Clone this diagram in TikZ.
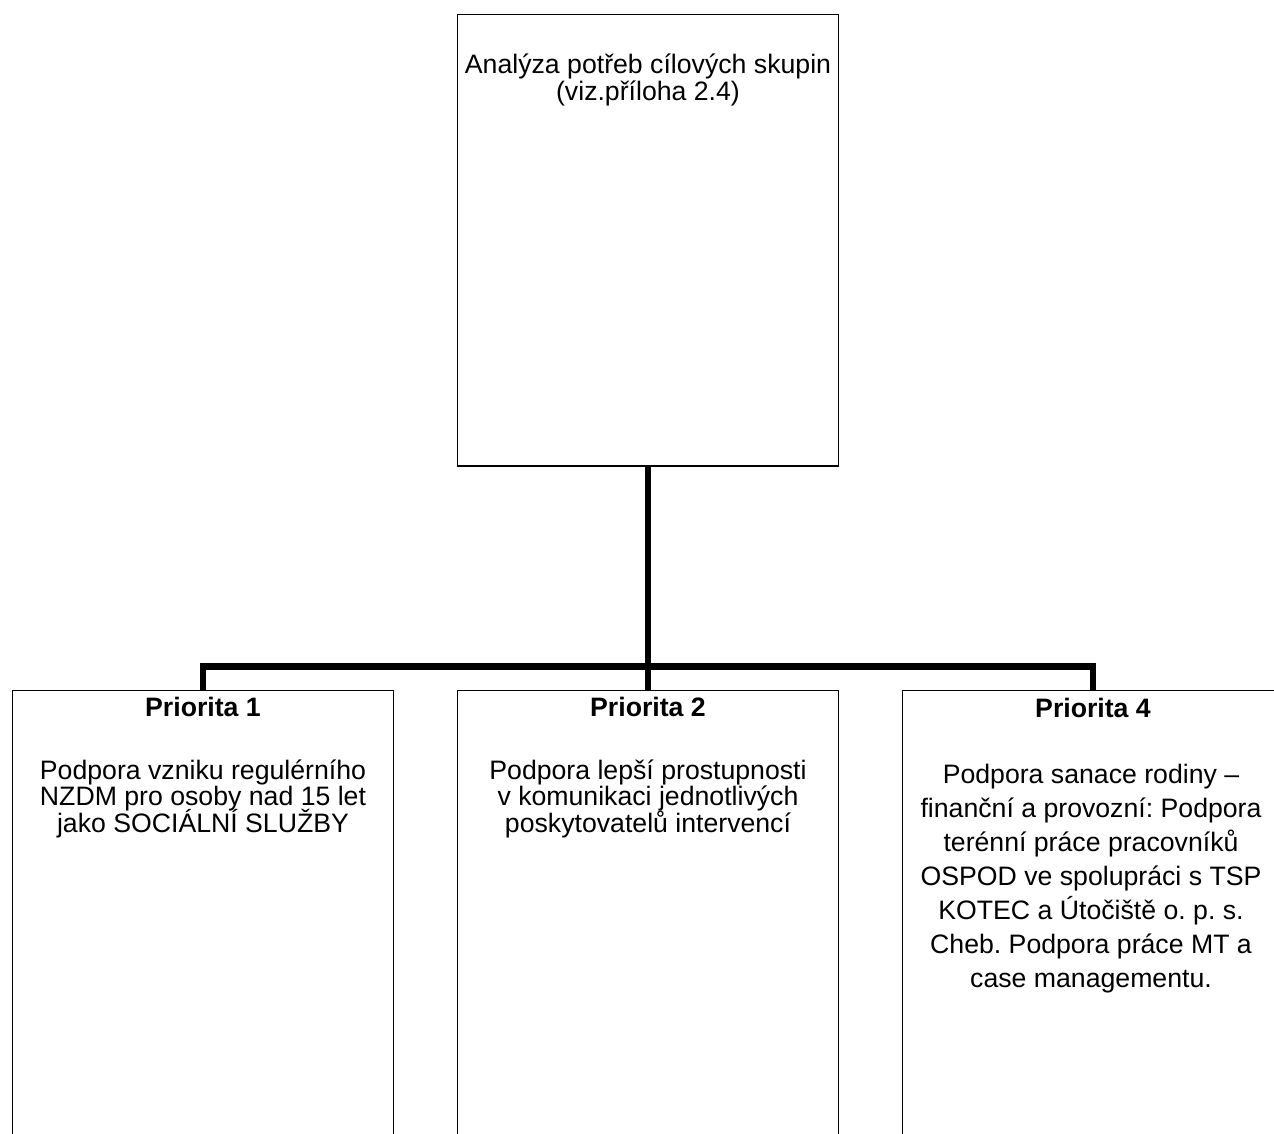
\documentclass[tikz,border=0pt]{standalone}
\usepackage{fontspec}
\setmainfont{Liberation Sans}
\frenchspacing
\begin{document}
\begin{tikzpicture}[x=0.75pt,y=-0.75pt,
  box/.style={draw=black,line width=1.3pt,rectangle,inner sep=0pt,minimum width=285.75pt},
  boxtop/.style={box,minimum height=338.6pt},
  boxlow/.style={box,minimum height=382.5pt},
  txt/.style={inner sep=0pt,align=center,anchor=north,font=\fontsize{20}{20}\selectfont,
    execute at begin node={\lineskiplimit=-30pt\frenchspacing}},
  txtwide/.style={inner sep=0pt,align=center,anchor=north,font=\fontsize{20}{25.5}\selectfont,
    execute at begin node={\lineskiplimit=-30pt\frenchspacing}},
  head/.style={inner sep=0pt,anchor=base,font=\fontsize{20}{20}\selectfont\bfseries},
  conn/.style={draw=black,line width=4.6pt,line join=miter}]
\clip (0,0) rectangle (1274,1133);
\fill[white] (0,0) rectangle (1274,1133);

% boxes
\node[boxtop,anchor=north] (top) at (648,13.5) {};
\node[boxlow,anchor=north] (p1) at (203,689.5) {};
\node[boxlow,anchor=north] (p2) at (648,689.5) {};
\node[boxlow,anchor=north] (p4) at (1093,689.5) {};

% connectors
\coordinate (bus) at (648,666.5);
\draw[conn] (top.south) -- (bus);
\draw[conn] (p1.north) -- (p1.north |- bus) -- (p4.north |- bus) -- (p4.north);
\draw[conn] (bus) -- (p2.north);

% texts
\node[txt] (toptext) at (648,52.2) {\rule{0pt}{16pt}Analýza potřeb cílových skupin\\(viz.příloha 2.4)};

\node[head] (h1) at (203,716) {Priorita 1};
\node[head] (h2) at (648,716) {Priorita 2};
\node[head] (h4) at (1093,717) {Priorita 4};

\node[txt] (t1) at (203,757.7) {\rule{0pt}{16pt}Podpora vzniku regulérního\\NZDM pro osoby nad 15 let\\jako SOCIÁLNÍ SLUŽBY};
\node[txt] (t2) at (648,757.7) {\rule{0pt}{16pt}Podpora lepší prostupnosti\\v komunikaci jednotlivých\\poskytovatelů intervencí};
\node[txtwide] (t4) at (1091,761.7) {\rule{0pt}{16pt}Podpora sanace rodiny –\\finanční a provozní: Podpora\\terénní práce pracovníků\\OSPOD ve spolupráci s TSP\\KOTEC a Útočiště o. p. s.\\Cheb. Podpora práce MT a\\case managementu.};
\end{tikzpicture}
\end{document}
